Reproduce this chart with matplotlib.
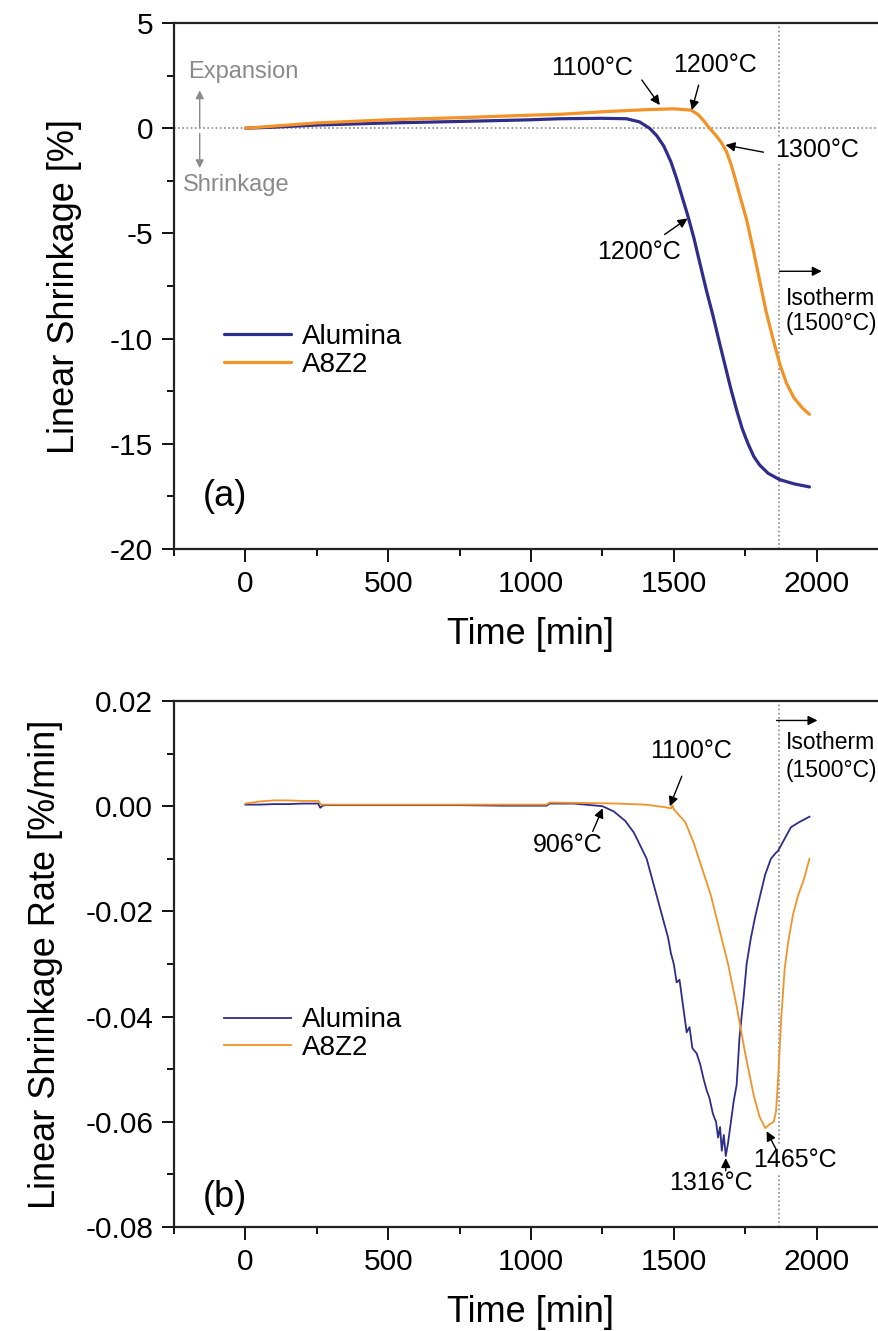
import matplotlib
matplotlib.use("Agg")
import matplotlib.pyplot as plt
from matplotlib.ticker import MultipleLocator, FormatStrFormatter

plt.rcParams['font.family'] = ['Liberation Sans', 'DejaVu Sans']
plt.rcParams['axes.unicode_minus'] = False

BLUE = '#2e2d8c'
ORANGE = '#f29227'
GRAY = '#8a8a8a'

# ---- (a) linear shrinkage vs. time ----
alumina_t = [0, 100, 250, 500, 750, 1000, 1100, 1250, 1334, 1380, 1415, 1440,
             1465, 1490, 1510, 1530, 1550, 1570, 1591, 1614, 1637, 1660, 1680,
             1700, 1720, 1740, 1760, 1780, 1800, 1830, 1870, 1920, 1975]
alumina_shrink = [0.0, 0.05, 0.15, 0.25, 0.32, 0.40, 0.45, 0.47, 0.45, 0.30, 0.0,
                  -0.35, -0.85, -1.6, -2.4, -3.3, -4.2, -5.2, -6.4, -7.7, -8.9,
                  -10.2, -11.3, -12.4, -13.4, -14.3, -15.0, -15.6, -16.0, -16.4,
                  -16.7, -16.9, -17.05]

a8z2_t = [0, 100, 250, 500, 750, 1000, 1100, 1250, 1400, 1500, 1560, 1585,
          1605, 1625, 1645, 1665, 1684, 1700, 1715, 1731, 1754, 1777, 1800,
          1823, 1847, 1871, 1894, 1920, 1950, 1975]
a8z2_shrink = [0.0, 0.1, 0.25, 0.4, 0.5, 0.62, 0.66, 0.78, 0.88, 0.92, 0.86, 0.65,
               0.35, 0.0, -0.3, -0.65, -1.1, -1.7, -2.4, -3.2, -4.3, -5.7, -7.2,
               -8.7, -10.0, -11.2, -12.1, -12.8, -13.3, -13.6]

# ---- (b) linear shrinkage rate vs. time ----
alumina_rt = [0, 50, 100, 150, 200, 255, 262, 270, 280, 500, 750, 900, 1000,
              1055, 1065, 1150, 1250, 1290, 1330, 1360, 1380, 1405, 1430, 1450,
              1465, 1480, 1490, 1500, 1510, 1520, 1530, 1545, 1555, 1565, 1580,
              1592, 1605, 1615, 1625, 1637, 1648, 1655, 1662, 1668, 1675, 1682,
              1690, 1700, 1710, 1720, 1730, 1745, 1755, 1770, 1785, 1800, 1820,
              1840, 1855, 1865, 1875, 1890, 1910, 1940, 1975]
alumina_rate = [0.0003, 0.0003, 0.0004, 0.0004, 0.0005, 0.0005, -0.0003, 0.0001,
                0.0002, 0.0002, 0.0002, 0.0001, 0.0001, 0.0001, 0.0005, 0.0005,
                0.0000, -0.0010, -0.0028, -0.0050, -0.0072, -0.0100, -0.0150,
                -0.0190, -0.0220, -0.0250, -0.0280, -0.0300, -0.0335, -0.0330,
                -0.0370, -0.0430, -0.0420, -0.0460, -0.0470, -0.0490, -0.0520,
                -0.0540, -0.0555, -0.0585, -0.0600, -0.0630, -0.0610, -0.0655,
                -0.0625, -0.0665, -0.0640, -0.0600, -0.0560, -0.0530, -0.0440,
                -0.0360, -0.0300, -0.0250, -0.0210, -0.0175, -0.0130, -0.0100,
                -0.0090, -0.0085, -0.0075, -0.0060, -0.0040, -0.0030, -0.0020]

a8z2_rt = [0, 50, 100, 150, 200, 255, 265, 500, 750, 1000, 1055, 1065, 1200,
           1300, 1400, 1470, 1490, 1495, 1500, 1540, 1570, 1600, 1630, 1660,
           1690, 1720, 1750, 1780, 1800, 1820, 1835, 1850, 1858, 1865, 1876,
           1888, 1900, 1917, 1935, 1955, 1975]
a8z2_rate = [0.0005, 0.0009, 0.0011, 0.0011, 0.0010, 0.0010, 0.0003, 0.0003,
             0.0003, 0.0003, 0.0003, 0.0007, 0.0006, 0.0005, 0.0003, -0.0002,
             -0.0004, 0.0002, -0.0006, -0.0030, -0.0070, -0.0120, -0.0170,
             -0.0235, -0.0300, -0.0380, -0.0470, -0.0550, -0.0590, -0.0612,
             -0.0605, -0.0600, -0.0580, -0.0520, -0.0405, -0.0310, -0.0260,
             -0.0207, -0.0170, -0.0140, -0.0100]

ISOTHERM_T = 1867

fig = plt.figure(figsize=(8.79, 13.31), dpi=100)
W, H = 879.0, 1331.0

def px_axes(left, top, right, bottom):
    return fig.add_axes([left / W, 1 - bottom / H, (right - left) / W, (bottom - top) / H])

ax1 = px_axes(174, 23, 888, 549)
ax2 = px_axes(174, 701, 888, 1227)

def style(ax):
    ax.set_xlim(-250, 2250)
    ax.xaxis.set_major_locator(MultipleLocator(500))
    ax.xaxis.set_minor_locator(MultipleLocator(250))
    ax.tick_params(which='major', direction='out', length=9, width=1.3, labelsize=21.5, pad=6)
    ax.tick_params(which='minor', direction='out', length=5, width=1.3)
    ax.tick_params(axis='x', which='both', top=False)
    ax.tick_params(axis='y', which='both', right=False)
    for s in ax.spines.values():
        s.set_linewidth(1.6)
        s.set_color('#222222')
    ax.set_xlabel('Time [min]', fontsize=26, labelpad=14)

arrow_k = dict(arrowstyle='-|>', color='black', lw=1.0, mutation_scale=14, shrinkA=0, shrinkB=0)
bg = dict(facecolor='white', edgecolor='none', pad=1)
ann_fs = 18
iso_fs = 16.5

# ---------- panel (a) ----------
ax1.plot(alumina_t, alumina_shrink, color=BLUE, lw=2.3, label='Alumina', solid_capstyle='round')
ax1.plot(a8z2_t, a8z2_shrink, color=ORANGE, lw=2.3, label='A8Z2', solid_capstyle='round')
ax1.axhline(0, color=GRAY, lw=1.2, ls=(0, (1, 1.5)), zorder=0)
ax1.axvline(ISOTHERM_T, color=GRAY, lw=1.2, ls=(0, (1, 1.5)), zorder=0)
ax1.set_ylim(-20, 5)
ax1.yaxis.set_major_locator(MultipleLocator(5))
ax1.yaxis.set_minor_locator(MultipleLocator(2.5))
style(ax1)
ax1.set_ylabel('Linear Shrinkage [%]', fontsize=26, labelpad=20)

ax1.text(-202, 2.67, 'Expansion', color=GRAY, fontsize=17, va='center', ha='left')
ax1.text(-219, -2.71, 'Shrinkage', color=GRAY, fontsize=17, va='center', ha='left')
gray_arrow = dict(arrowstyle='-|>', color=GRAY, lw=1.0, mutation_scale=12, shrinkA=0, shrinkB=0)
ax1.annotate('', xy=(-160, 1.8), xytext=(-160, 0.05), arrowprops=gray_arrow)
ax1.annotate('', xy=(-160, -1.9), xytext=(-160, -0.25), arrowprops=gray_arrow)

ax1.text(1213, 2.86, '1100°C', fontsize=ann_fs, ha='center', va='center', bbox=bg)
ax1.annotate('', xy=(1451, 1.10), xytext=(1388, 2.29), arrowprops=arrow_k)
ax1.text(1643, 3.0, '1200°C', fontsize=ann_fs, ha='center', va='center', bbox=bg)
ax1.annotate('', xy=(1563, 0.86), xytext=(1587, 2.05), arrowprops=arrow_k)
ax1.text(2003, -1.05, '1300°C', fontsize=ann_fs, ha='center', va='center', bbox=bg)
ax1.annotate('', xy=(1681, -0.80), xytext=(1814, -1.14), arrowprops=arrow_k)
ax1.text(1377, -5.9, '1200°C', fontsize=ann_fs, ha='center', va='center', bbox=bg)
ax1.annotate('', xy=(1548, -4.29), xytext=(1468, -5.05), arrowprops=arrow_k)
ax1.annotate('', xy=(2018, -6.8), xytext=(1870, -6.8), arrowprops=arrow_k)
ax1.text(1893, -8.1, 'Isotherm', fontsize=iso_fs, ha='left', va='center')
ax1.text(1893, -9.3, '(1500°C)', fontsize=iso_fs, ha='left', va='center')
ax1.text(-150, -17.5, '(a)', fontsize=26, ha='left', va='center')

ax1.legend(loc='upper left', bbox_to_anchor=(0.035, 0.475), frameon=False, fontsize=20,
           handlelength=2.4, handletextpad=0.4, labelspacing=0.05)

# ---------- panel (b) ----------
ax2.plot(alumina_rt, alumina_rate, color=BLUE, lw=1.3, label='Alumina')
ax2.plot(a8z2_rt, a8z2_rate, color=ORANGE, lw=1.3, label='A8Z2')
ax2.axvline(ISOTHERM_T, color=GRAY, lw=1.2, ls=(0, (1, 1.5)), zorder=0)
ax2.set_ylim(-0.08, 0.02)
ax2.yaxis.set_major_locator(MultipleLocator(0.02))
ax2.yaxis.set_minor_locator(MultipleLocator(0.01))
ax2.yaxis.set_major_formatter(FormatStrFormatter('%.2f'))
style(ax2)
ax2.set_ylabel('Linear Shrinkage Rate [%/min]', fontsize=26, labelpad=16)

ax2.text(1559, 0.0105, '1100°C', fontsize=ann_fs, ha='center', va='center', bbox=bg)
ax2.annotate('', xy=(1486, 0.0), xytext=(1528, 0.0057), arrowprops=arrow_k)
ax2.text(1251, -0.0073, '906°C', fontsize=ann_fs, ha='right', va='center', bbox=bg)
ax2.annotate('', xy=(1251, -0.0004), xytext=(1216, -0.0048), arrowprops=arrow_k)
ax2.annotate('', xy=(2003, 0.0163), xytext=(1860, 0.0163), arrowprops=arrow_k)
ax2.text(1893, 0.0121, 'Isotherm', fontsize=iso_fs, ha='left', va='center')
ax2.text(1893, 0.0067, '(1500°C)', fontsize=iso_fs, ha='left', va='center')
ax2.text(1630, -0.0716, '1316°C', fontsize=ann_fs, ha='center', va='center', bbox=bg)
ax2.annotate('', xy=(1682, -0.0669), xytext=(1682, -0.0693), arrowprops=arrow_k)
ax2.text(1925, -0.0672, '1465°C', fontsize=ann_fs, ha='center', va='center', bbox=bg)
ax2.annotate('', xy=(1825, -0.0618), xytext=(1858, -0.0652), arrowprops=arrow_k)
ax2.text(-150, -0.0743, '(b)', fontsize=26, ha='left', va='center')

ax2.legend(loc='upper left', bbox_to_anchor=(0.035, 0.465), frameon=False, fontsize=20,
           handlelength=2.4, handletextpad=0.4, labelspacing=0.05)

fig.savefig('out.png', dpi=100)
